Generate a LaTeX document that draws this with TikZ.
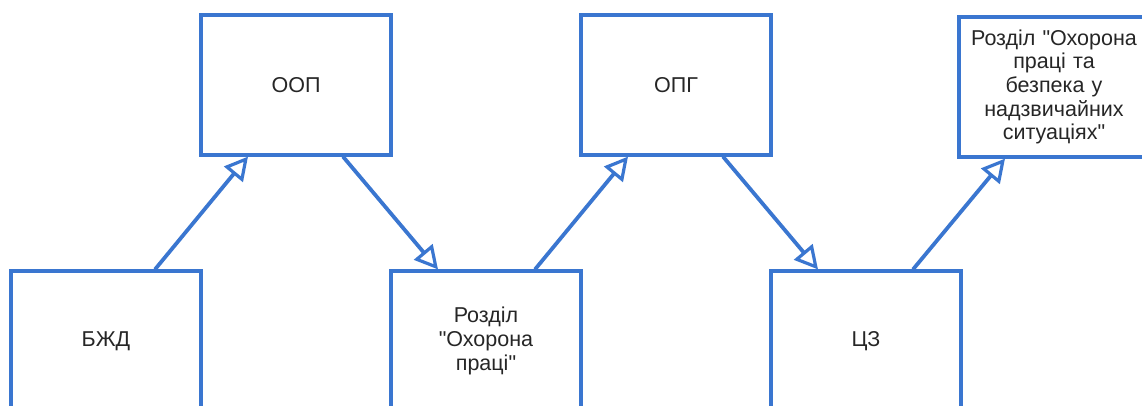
\documentclass[tikz,border=0pt]{standalone}
\usepackage{fontspec}
\setmainfont{Liberation Sans}
\usepackage{tikz}
\usetikzlibrary{positioning,arrows.meta}
\definecolor{boxblue}{RGB}{58,118,208}

\begin{document}
\begin{tikzpicture}[x=1pt, y=-1pt,
  every node/.style = {shape=rectangle, draw=boxblue, line width=3.2pt,
    minimum width=190pt, minimum height=140pt, text width=180pt,
    align=center, text=black!85, font=\fontsize{21.5}{23.7}\selectfont},
  link/.style = {draw=boxblue, line width=3.8pt,
    -{Triangle[open, length=23pt, width=24pt, line width=3.2pt]}}]
    \useasboundingbox (0,0) rectangle (1142,405);
    \clip (0,0) rectangle (1142,405);
    \node (bzhd) at (106,341) {БЖД};
    \node (oop) at (296,85) {ООП};
    \node (rozdil) at (486,341) {Розділ\\\textquotedbl Охорона\\праці\textquotedbl};
    \node (opg) at (676,85) {ОПГ};
    \node (cz) at (866,341) {ЦЗ};
    \node (rozdilns) at (1054,87) {Розділ \textquotedbl Охорона\\праці та\\безпека у\\надзвичайних\\ситуаціях\textquotedbl};
    \draw[link] ([xshift=49pt]bzhd.north) -- ([xshift=-48pt]oop.south);
    \draw[link] ([xshift=47pt]oop.south) -- ([xshift=-48pt]rozdil.north);
    \draw[link] ([xshift=49pt]rozdil.north) -- ([xshift=-48pt]opg.south);
    \draw[link] ([xshift=47pt]opg.south) -- ([xshift=-48pt]cz.north);
    \draw[link] ([xshift=47pt]cz.north) -- ([xshift=-49pt]rozdilns.south);
\end{tikzpicture}
\end{document}
